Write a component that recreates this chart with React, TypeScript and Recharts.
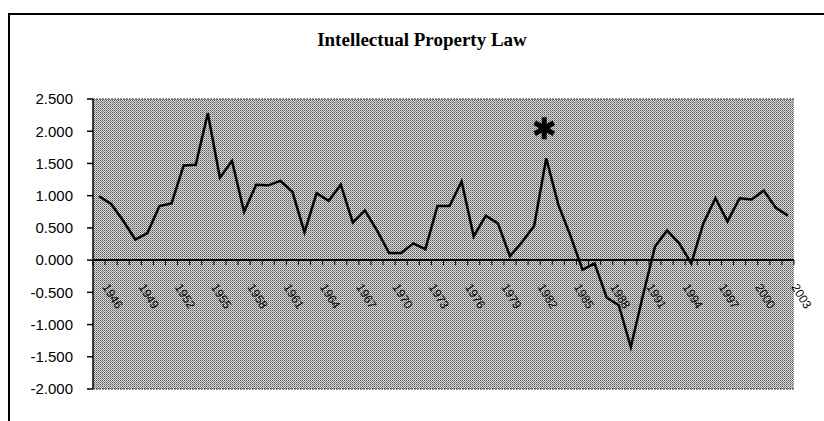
import React from "react";
import { LineChart, Line, XAxis, YAxis, ReferenceLine, CartesianGrid } from "recharts";

const years = [
  "1946", "1947", "1948", "1949", "1950", "1951", "1952", "1953", "1954", "1955",
  "1956", "1957", "1958", "1959", "1960", "1961", "1962", "1963", "1964", "1965",
  "1966", "1967", "1968", "1969", "1970", "1971", "1972", "1973", "1974", "1975",
  "1976", "1977", "1978", "1979", "1980", "1981", "1982", "1983", "1984", "1985",
  "1986", "1987", "1988", "1989", "1990", "1991", "1992", "1993", "1994", "1995",
  "1996", "1997", "1998", "1999", "2000", "2001", "2002", "2003",
];

const values = [
  0.99, 0.87, 0.61, 0.32, 0.42, 0.84, 0.88, 1.47, 1.48, 2.28,
  1.28, 1.54, 0.75, 1.17, 1.16, 1.23, 1.06, 0.43, 1.04, 0.92,
  1.17, 0.58, 0.77, 0.46, 0.11, 0.11, 0.26, 0.17, 0.84, 0.84,
  1.22, 0.37, 0.69, 0.57, 0.06, 0.28, 0.53, 1.58, 0.86, 0.38,
  -0.15, -0.05, -0.58, -0.7, -1.35, -0.55, 0.21, 0.46, 0.26, -0.05,
  0.57, 0.96, 0.6, 0.96, 0.94, 1.08, 0.81, 0.69,
];

const labelYears = [
  "1946", "1949", "1952", "1955", "1958", "1961", "1964", "1967", "1970", "1973",
  "1976", "1979", "1982", "1985", "1988", "1991", "1994", "1997", "2000", "2003",
];

const yTicks = [2.5, 2.0, 1.5, 1.0, 0.5, 0.0, -0.5, -1.0, -1.5, -2.0];
const starYears = ["1983"];
const title = "Intellectual Property Law";

const data = years.map((y, i) => ({ year: y, value: values[i] }));

const W = 824;
const H = 421;
const X_AXIS_H = 30;
const MARGIN = { top: 99, right: 30, bottom: 2, left: 0 };
const Y_AXIS_W = 93;
const PLOT_TOP = MARGIN.top;
const PLOT_H = H - MARGIN.top - MARGIN.bottom - X_AXIS_H;
const PLOT_W = W - MARGIN.left - MARGIN.right - Y_AXIS_W;
const Y_MIN = -2;
const Y_MAX = 2.5;
const ZERO_Y = PLOT_TOP + (PLOT_H * (Y_MAX - 0)) / (Y_MAX - Y_MIN);
const BAND = PLOT_W / years.length;

const XTick = (props: any) => {
  const { x, index, payload } = props;
  const year = payload && payload.value != null ? String(payload.value) : years[index];
  const half = BAND / 2;
  const showLabel = labelYears.includes(year);
  const isLast = year === years[years.length - 1];
  const lx = x + 3;
  const ly = ZERO_Y + 27;
  return (
    <g>
      <line x1={x - half} x2={x - half} y1={ZERO_Y} y2={ZERO_Y + 5} stroke="#000" strokeWidth={1} />
      {isLast && (
        <line x1={x + half} x2={x + half} y1={ZERO_Y} y2={ZERO_Y + 5} stroke="#000" strokeWidth={1} />
      )}
      {showLabel && (
        <text
          x={lx}
          y={ly}
          transform={`rotate(58 ${lx} ${ly})`}
          textAnchor="start"
          fontFamily="'Liberation Sans', Arial, sans-serif"
          fontSize={12}
          fill="#000"
        >
          {year}
        </text>
      )}
    </g>
  );
};

const StarLabel = (props: any) => {
  const { x, y, index } = props;
  if (index == null || !starYears.includes(years[index])) return null;
  const cx = x - 2;
  const cy = y - 30;
  const r = 11;
  const arms = [90, 30, 150];
  return (
    <g>
      {arms.map((a) => {
        const rad = (a * Math.PI) / 180;
        const dx = Math.cos(rad) * r;
        const dy = Math.sin(rad) * r;
        return (
          <line
            key={a}
            x1={cx - dx}
            y1={cy - dy}
            x2={cx + dx}
            y2={cy + dy}
            stroke="#000"
            strokeWidth={5}
          />
        );
      })}
    </g>
  );
};

export default function App() {
  return (
    <div style={{ position: "absolute", left: 0, top: 0, width: W, height: H, background: "#fff", overflow: "hidden" }}>
      <svg width={0} height={0} style={{ position: "absolute" }}>
        <defs>
          <pattern id="dither" patternUnits="userSpaceOnUse" width={2} height={2}>
            <rect x={0} y={0} width={2} height={2} fill="#d8d8d8" shapeRendering="crispEdges" />
            <rect x={0} y={0} width={1} height={1} fill="#5a5a5a" shapeRendering="crispEdges" />
            <rect x={1} y={1} width={1} height={1} fill="#909090" shapeRendering="crispEdges" />
          </pattern>
        </defs>
      </svg>
      <div
        style={{
          position: "absolute",
          left: 8,
          top: 13,
          width: 840,
          height: 420,
          borderLeft: "2px solid #000",
          borderTop: "2px solid #000",
          boxSizing: "border-box",
        }}
      />
      <div
        style={{
          position: "absolute",
          left: 0,
          top: 30,
          width: 844,
          textAlign: "center",
          fontFamily: "'Liberation Serif', 'Times New Roman', serif",
          fontWeight: "bold",
          fontSize: 19,
          lineHeight: "19px",
          color: "#000",
        }}
      >
        {title}
      </div>
      <div style={{ position: "absolute", left: 0, top: 0 }}>
        <LineChart width={W} height={H} data={data} margin={MARGIN}>
          <CartesianGrid horizontal={false} vertical={false} fill="url(#dither)" />
          <XAxis
            dataKey="year"
            type="category"
            interval={0}
            height={X_AXIS_H}
            padding={{ left: BAND / 2, right: BAND / 2 }}
            axisLine={false}
            tickLine={false}
            tick={<XTick />}
          />
          <YAxis
            domain={[Y_MIN, Y_MAX]}
            ticks={yTicks}
            interval={0}
            width={Y_AXIS_W}
            tickFormatter={(v: number) => v.toFixed(3)}
            tick={{ fill: "#000", fontSize: 15, fontFamily: "'Liberation Sans', Arial, sans-serif" }}
            tickSize={6}
            tickMargin={14}
            axisLine={{ stroke: "#000", strokeWidth: 1.5 }}
            tickLine={{ stroke: "#000", strokeWidth: 1.5 }}
          />
          <YAxis
            yAxisId="right"
            orientation="right"
            domain={[Y_MIN, Y_MAX]}
            width={0}
            tick={false}
            tickLine={false}
            axisLine={{ stroke: "#333", strokeDasharray: "2 1" }}
          />
          <ReferenceLine y={Y_MAX} stroke="#333" strokeDasharray="2 1" />
          <ReferenceLine y={Y_MIN} stroke="#333" strokeDasharray="2 1" />
          <ReferenceLine y={0} stroke="#000" strokeWidth={2} />
          <Line
            type="linear"
            dataKey="value"
            stroke="#000"
            strokeWidth={2.5}
            dot={false}
            activeDot={false}
            isAnimationActive={false}
            label={<StarLabel />}
          />
        </LineChart>
      </div>
    </div>
  );
}
